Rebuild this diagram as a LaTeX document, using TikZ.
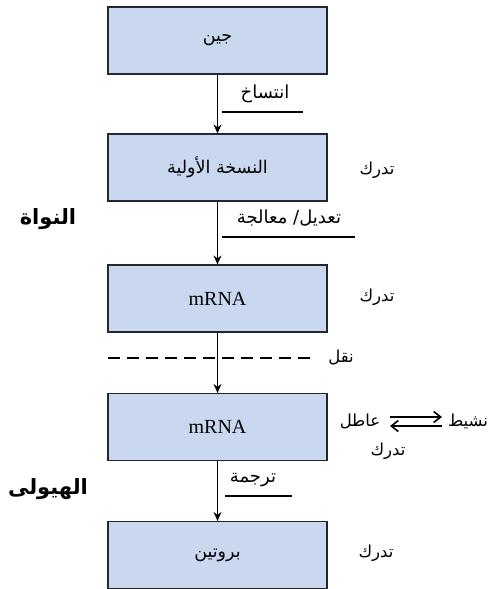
\documentclass[tikz,border=0pt]{standalone}
\usepackage{fontspec}
\usetikzlibrary{arrows.meta}
\TeXXeTstate=1
\setmainfont{Liberation Serif}
\newfontfamily\arabicfont[Script=Arabic]{DejaVu Sans}
\definecolor{boxfill}{RGB}{201,216,239}
\definecolor{boxline}{RGB}{38,38,48}

\begin{document}
\begin{tikzpicture}[x=1pt,y=-1pt,
  stage/.style={draw=boxline, line width=1.2pt, fill=boxfill,
    minimum width=219pt, minimum height=67pt, inner sep=0pt,
    font=\arabicfont\fontsize{17.5}{20}\selectfont},
  latin/.style={font=\rmfamily\fontsize{20}{22}\selectfont},
  lab/.style={inner sep=0pt, font=\arabicfont\fontsize{18}{20}\selectfont},
  side/.style={inner sep=0pt, font=\arabicfont\fontsize{16.5}{19}\selectfont},
  region/.style={inner sep=0pt, font=\arabicfont\bfseries\fontsize{21}{24}\selectfont},
  flow/.style={draw=black, line width=0.9pt, -{Stealth[length=9pt,width=8pt,inset=3pt]}},
  uline/.style={draw=black, line width=2pt},
  border/.style={draw=black, line width=1.8pt, dash pattern=on 12pt off 7pt},
  eq/.style={draw=black, line width=1.6pt, -{Straight Barb[length=7pt,width=11pt]}}
]
\useasboundingbox (0,0) rectangle (500,589);

% stages of gene expression
\node[stage] (gene) at (217.5,40.5) {\beginR جين\endR};
\node[stage] (pre) at (217.5,167.5) {\beginR النسخة الأولية\endR};
\node[stage, latin] (mrna1) at (217.5,298.5) {mRNA};
\node[stage, latin] (mrna2) at (217.5,427) {mRNA};
\node[stage] (prot) at (217.5,555) {\beginR بروتين\endR};

% processes between stages
\draw[flow] (gene) -- (pre);
\draw[flow] (pre) -- (mrna1);
\draw[flow] (mrna1) -- (mrna2);
\draw[flow] (mrna2) -- (prot);

\node[lab] (tx) at (265,94) {\beginR انتساخ\endR};
\coordinate (tx1) at (222,112);
\coordinate (tx2) at (303,112);
\draw[uline] (tx1) -- (tx2);

\node[lab] (proc) at (289,218) {\beginR تعديل/ معالجة\endR};
\coordinate (pr1) at (222,237);
\coordinate (pr2) at (355,237);
\draw[uline] (pr1) -- (pr2);

\node[lab] (tl) at (253,480) {\beginR ترجمة\endR};
\coordinate (tl1) at (225,496);
\coordinate (tl2) at (292,496);
\draw[uline] (tl1) -- (tl2);

% nuclear envelope
\coordinate (nb1) at (108,358);
\coordinate (nb2) at (310,358);
\draw[border] (nb1) -- (nb2);
\node[side] (export) at (341,357) {\beginR نقل\endR};

% degradation
\node[side] (d1) at (377,170) {\beginR تدرك\endR};
\node[side] (d2) at (377,297) {\beginR تدرك\endR};
\node[side] (d3) at (388,451) {\beginR تدرك\endR};
\node[side] (d4) at (376,553) {\beginR تدرك\endR};

% active / inactive equilibrium
\node[side] (idle) at (360,421) {\beginR عاطل\endR};
\node[side] (act) at (468,421) {\beginR نشيط\endR};
\coordinate (eqL) at (390,421);
\coordinate (eqR) at (442,421);
\draw[eq] ([yshift=4pt]eqL) -- ([yshift=4pt]eqR);
\draw[eq] ([yshift=-5pt]eqR) -- ([yshift=-5pt]eqL);

% compartments
\node[region] (nuc) at (48,219) {\beginR النواة\endR};
\node[region] (cyto) at (48,489) {\beginR الهيولى\endR};
\end{tikzpicture}
\end{document}
